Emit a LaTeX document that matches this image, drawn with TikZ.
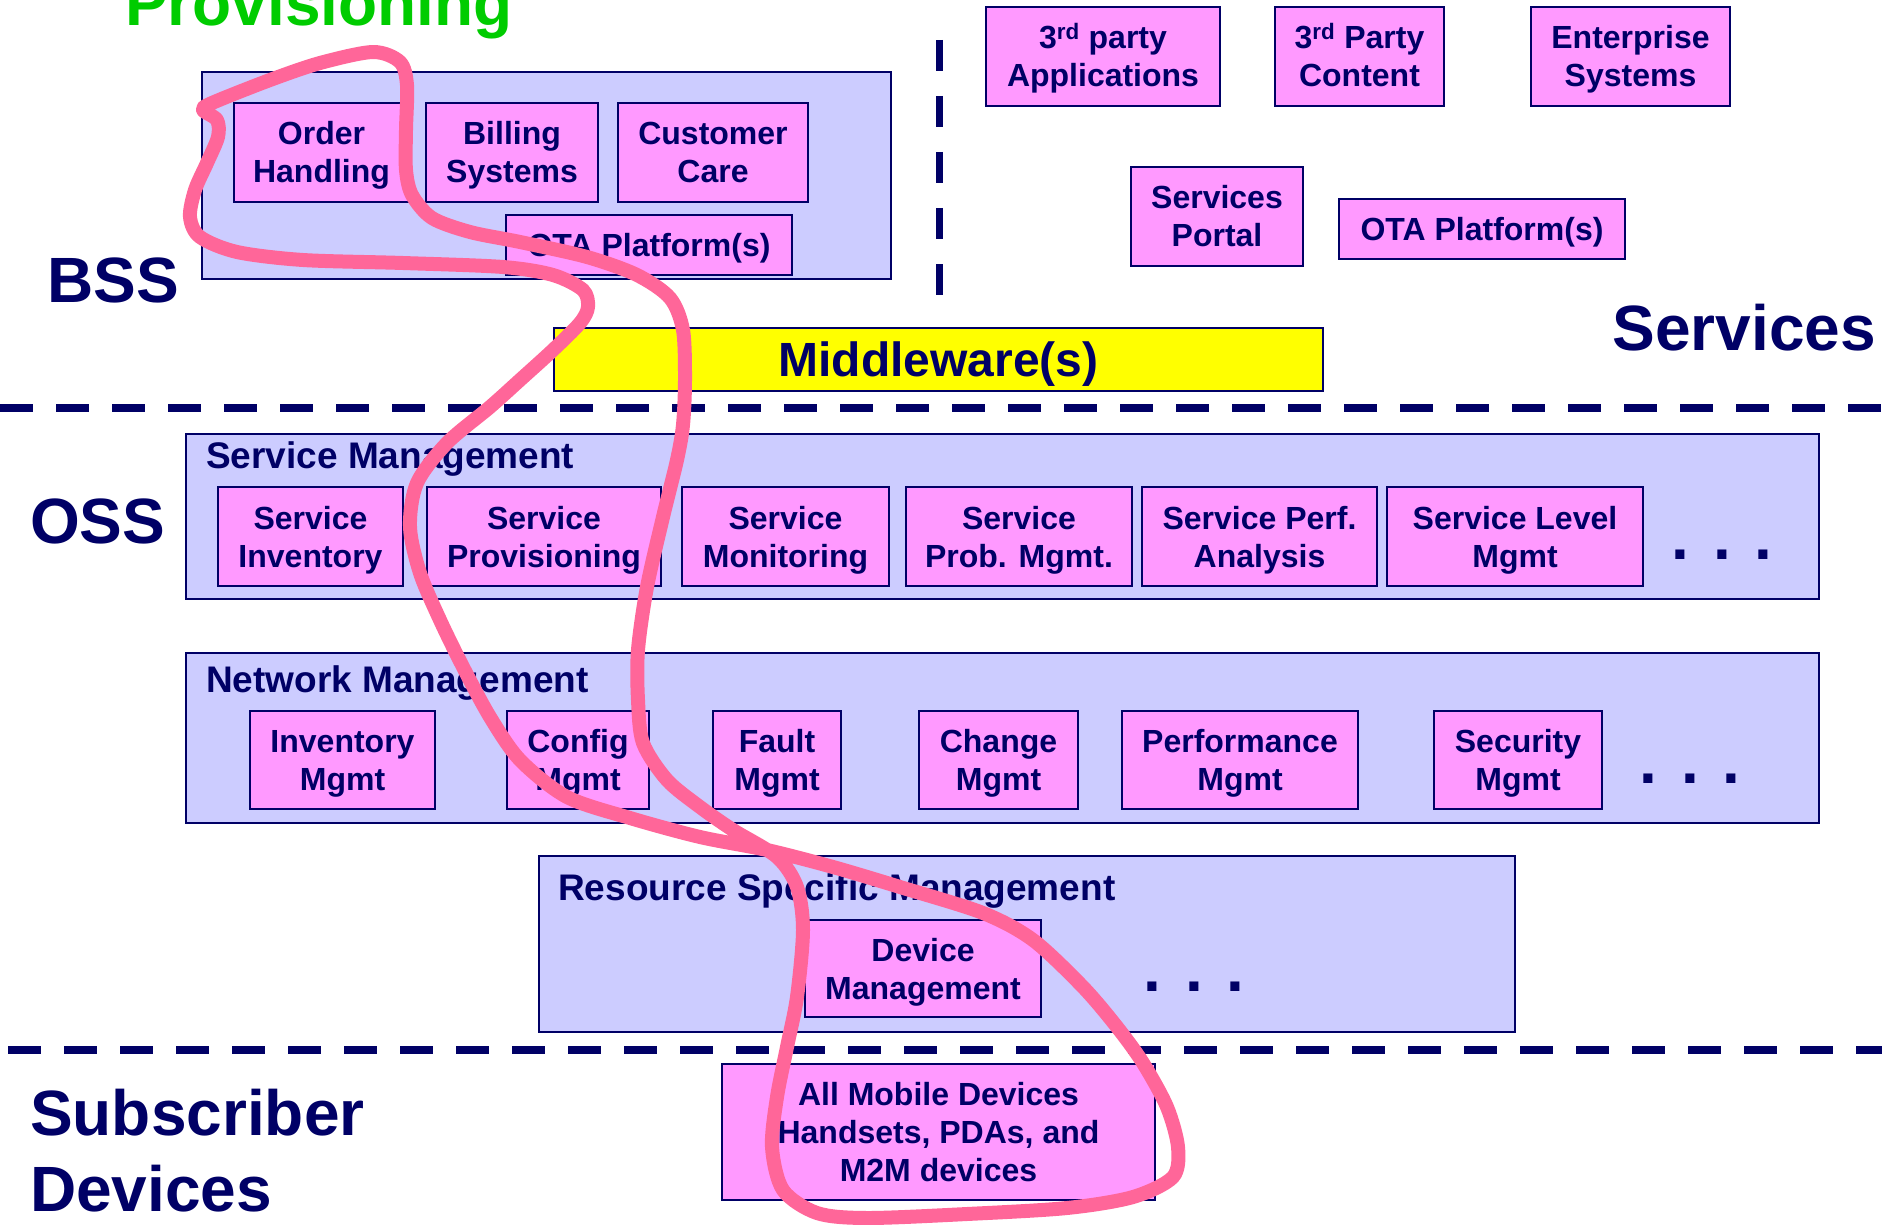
\documentclass[tikz,border=0pt]{standalone}
\usepackage{fontspec}
\setmainfont{Liberation Sans}
\definecolor{navy}{RGB}{0,0,102}
\definecolor{lav}{RGB}{204,204,255}
\definecolor{pinkfill}{RGB}{255,153,255}
\definecolor{loopcol}{RGB}{255,102,153}
\definecolor{grn}{RGB}{0,204,0}
\definecolor{yel}{RGB}{255,255,0}
% box from corner (x1,y1) to corner (x2,y2), pixel-like units
\newcommand{\mkbox}[7]{%
  \node[#1, minimum width={#5-#3}, minimum height={#6-#4}] (#2)
    at ({(#3+#5)/2},{(#4+#6)/2}) {#7};}
\begin{document}
\begin{tikzpicture}[x=1pt,y=-1pt,
  area/.style={draw=navy, fill=lav, line width=2.5pt, inner sep=0pt},
  unit/.style={draw=navy, fill=pinkfill, line width=2.5pt, inner sep=0pt,
    align=center, text=navy, font=\fontsize{32}{38}\selectfont\bfseries,
    text depth=0pt, text height=61pt},
  oneline/.style={text height=23pt},
  threeline/.style={text height=99pt},
  midware/.style={draw=navy, fill=yel, line width=2.5pt, inner sep=0pt,
    text=navy, font=\fontsize{48}{52}\selectfont\bfseries,
    text depth=0pt, text height=34pt},
  areatitle/.style={anchor=base west, inner sep=0pt, text=navy,
    font=\fontsize{37}{40}\selectfont\bfseries},
  biglabel/.style={anchor=base west, inner sep=0pt, text=navy,
    font=\fontsize{64}{76}\selectfont\bfseries},
  dots/.style={anchor=base, inner sep=0pt, text=navy,
    font=\fontsize{64}{64}\selectfont\bfseries},
  divider/.style={draw=navy, line width=8pt, dash pattern=on 33pt off 23pt},
  vdivider/.style={draw=navy, line width=7pt, dash pattern=on 31pt off 25pt},
  loopline/.style={draw=loopcol, line width=14pt, line join=round}
]
\useasboundingbox (0,0) rectangle (1882,1225);

% layer dividers
\coordinate (d1a) at (0,408);    \coordinate (d1b) at (1882,408);
\coordinate (d2a) at (8,1050);   \coordinate (d2b) at (1882,1050);
\coordinate (vda) at (939,40);   \coordinate (vdb) at (939,296);
\draw[divider] (d1a) -- (d1b);
\draw[divider] (d2a) -- (d2b);
\draw[vdivider] (vda) -- (vdb);

% side labels
\node[biglabel, text=grn] (prov) at (125,26) {Provisioning};
\node[biglabel] (bss) at (47,302) {BSS};
\node[biglabel] (oss) at (30,543) {OSS};
\node[biglabel, anchor=base east] (svc) at (1876,350) {Services};
\node[biglabel] (sub1) at (30,1135) {Subscriber};
\node[biglabel] (sub2) at (30,1211) {Devices};

% BSS
\mkbox{area}{bssarea}{202}{72}{891}{279}{}
\mkbox{unit}{order}{234}{103}{409}{202}{Order\\Handling}
\mkbox{unit}{billing}{426}{103}{598}{202}{Billing\\Systems}
\mkbox{unit}{care}{618}{103}{808}{202}{Customer\\Care}
\mkbox{unit,oneline}{otab}{506}{215}{792}{275}{OTA Platform(s)}

% services
\mkbox{unit}{apps}{986}{7}{1220}{106}{3\textsuperscript{rd} party\\Applications}
\mkbox{unit}{content}{1275}{7}{1444}{106}{3\textsuperscript{rd} Party\\Content}
\mkbox{unit}{enterprise}{1531}{7}{1730}{106}{Enterprise\\Systems}
\mkbox{unit}{portal}{1131}{167}{1303}{266}{Services\\Portal}
\mkbox{unit,oneline}{otas}{1339}{199}{1625}{259}{OTA Platform(s)}

% middleware
\mkbox{midware}{mw}{554}{328}{1323}{391}{Middleware(s)}

% service management
\mkbox{area}{smarea}{186}{434}{1819}{599}{}
\node[areatitle] (smtitle) at (206,468) {Service Management};
\mkbox{unit}{sinv}{218}{487}{403}{586}{Service\\Inventory}
\mkbox{unit}{sprov}{427}{487}{661}{586}{Service\\Provisioning}
\mkbox{unit}{smon}{682}{487}{889}{586}{Service\\Monitoring}
\mkbox{unit}{sprob}{906}{487}{1132}{586}{Service\\Prob. Mgmt.}
\mkbox{unit}{sperf}{1142}{487}{1377}{586}{Service Perf.\\Analysis}
\mkbox{unit}{slev}{1387}{487}{1643}{586}{Service Level\\Mgmt}
\node[dots] (smdots) at (1722,559) {. . .};

% network management
\mkbox{area}{nmarea}{186}{653}{1819}{823}{}
\node[areatitle] (nmtitle) at (206,692) {Network Management};
\mkbox{unit}{ninv}{250}{711}{435}{809}{Inventory\\Mgmt}
\mkbox{unit}{ncfg}{507}{711}{649}{809}{Config\\Mgmt}
\mkbox{unit}{nflt}{713}{711}{841}{809}{Fault\\Mgmt}
\mkbox{unit}{nchg}{919}{711}{1078}{809}{Change\\Mgmt}
\mkbox{unit}{nperf}{1122}{711}{1358}{809}{Performance\\Mgmt}
\mkbox{unit}{nsec}{1434}{711}{1602}{809}{Security\\Mgmt}
\node[dots] (nmdots) at (1690,783) {. . .};

% resource specific management
\mkbox{area}{rsarea}{539}{856}{1515}{1032}{}
\node[areatitle] (rstitle) at (558,900) {Resource Specific Management};
\mkbox{unit}{devmgmt}{805}{920}{1041}{1017}{Device\\Management}
\node[dots] (rsdots) at (1194,991) {. . .};

% subscriber devices
\mkbox{unit,threeline}{devices}{722}{1064}{1155}{1200}{All Mobile Devices\\Handsets, PDAs, and\\M2M devices}

% hand-drawn provisioning loop
\draw[loopline] plot[smooth cycle, tension=0.5] coordinates {
  (373,52) (400,62) (407,85) (406,130) (406,170) (412,195) (432,218)
  (470,232) (520,242) (587,257) (637,275) (670,298) (683,330) (685,380)
  (683,425) (677,460) (663,517) (647,587) (638,650) (638,700) (643,743)
  (667,780) (700,807) (733,830) (777,857) (797,887) (803,930) (797,997)
  (787,1047) (777,1097) (772,1147) (783,1190) (817,1213) (867,1218)
  (967,1214) (1067,1208) (1133,1197) (1173,1177) (1178,1147) (1167,1107)
  (1143,1063) (1117,1027) (1083,987) (1033,940) (983,913) (900,887)
  (833,867) (767,850) (700,837) (630,818) (567,797) (520,760) (490,717)
  (463,667) (440,620) (420,573) (410,527) (417,483) (447,443) (490,407)
  (520,380) (553,350) (580,323) (588,307) (583,290) (553,275) (503,267)
  (403,263) (303,260) (237,252) (200,237) (190,217) (195,190) (207,163)
  (218,137) (217,120) (203,110) (212,103) (270,80) (320,63)};
\end{tikzpicture}
\end{document}
